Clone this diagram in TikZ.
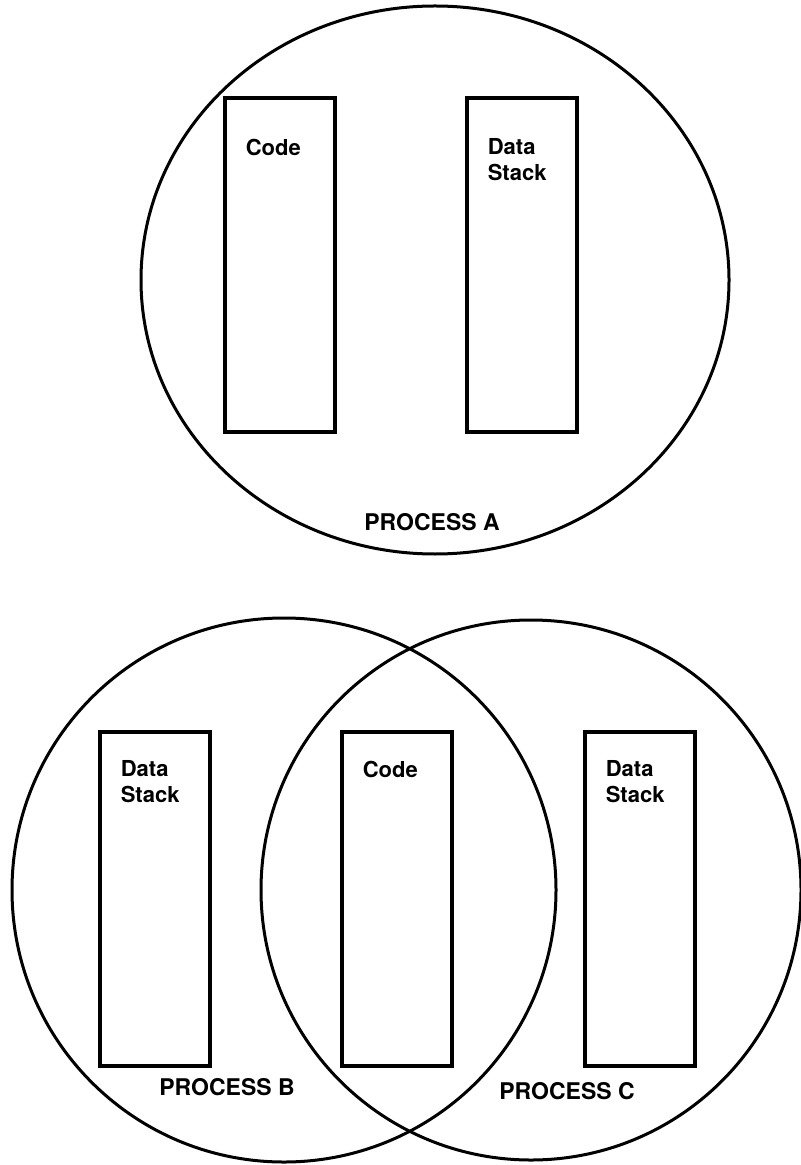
\documentclass[tikz,border=0pt]{standalone}
\usepackage{fontspec}
\setmainfont{TeX Gyre Heros}
\tikzset{
    memblock/.style={draw, line width=1.6pt, minimum width=55pt, minimum height=167pt, inner sep=0pt},
    blocklabel/.style={anchor=north west, font=\bfseries\fontsize{11}{13}\selectfont, align=left, inner sep=0pt},
    proclabel/.style={font=\bfseries\fontsize{11.5}{13}\selectfont, inner sep=0pt},
    procring/.style={line width=1.5pt}
}
\begin{document}
\begin{tikzpicture}[x=0.5pt, y=-0.5pt]
    \useasboundingbox (0,0) rectangle (800,1165);

    % process A
    \draw[procring] (435,280) ellipse[x radius=294, y radius=274];
    \node[memblock] (codeA) at (280,265) {};
    \node[memblock] (dataA) at (522,265) {};
    \node[blocklabel] (codeAtext) at ([xshift=11pt, yshift=-21pt]codeA.north west) {Code};
    \node[blocklabel] (dataAtext) at ([xshift=11pt, yshift=-21pt]dataA.north west) {Data\\Stack};
    \node[proclabel] (procA) at (432,522) {PROCESS A};

    % processes B and C share the code
    \draw[procring] (284,890) circle[radius=272];
    \draw[procring] (531,890) circle[radius=270];
    \node[memblock] (dataB) at (155,899) {};
    \node[memblock] (codeBC) at (397,899) {};
    \node[memblock] (dataC) at (640,899) {};
    \node[blocklabel] (dataBtext) at ([xshift=11pt, yshift=-15pt]dataB.north west) {Data\\Stack};
    \node[blocklabel] (codeBCtext) at ([xshift=11pt, yshift=-15pt]codeBC.north west) {Code};
    \node[blocklabel] (dataCtext) at ([xshift=11pt, yshift=-15pt]dataC.north west) {Data\\Stack};
    \node[proclabel] (procB) at (227,1087) {PROCESS B};
    \node[proclabel] (procC) at (567,1091) {PROCESS C};
\end{tikzpicture}
\end{document}
